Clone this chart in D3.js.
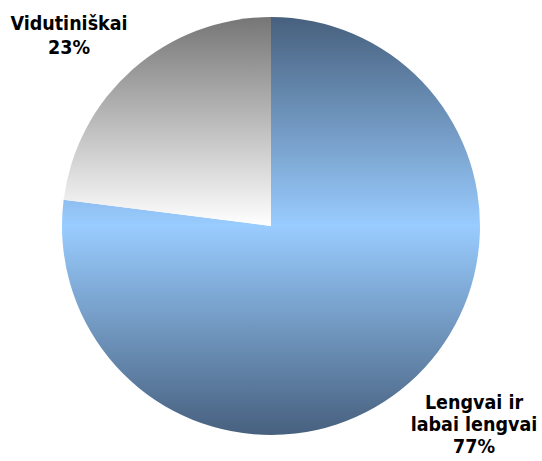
<!DOCTYPE html>
<html>
<head>
<meta charset="utf-8">
<script src="https://cdn.jsdelivr.net/npm/d3@7"></script>
<style>
  html, body { margin: 0; padding: 0; background: #fff; }
  svg { display: block; }
</style>
</head>
<body>
<svg id="chart" width="542" height="461"></svg>
<script>
// Answer shares (percent)
const categories = ["Lengvai ir labai lengvai", "Vidutiniškai"];
const values = [77, 23];
const labelLines = [["Lengvai ir", "labai lengvai", "77%"], ["Vidutiniškai", "23%"]];

const svg = d3.select("#chart");
const cx = 271, cy = 226, r = 209;

const defs = svg.append("defs");
// Blue slice: dark slate at the top and bottom, light blue through the middle
const gBlue = defs.append("linearGradient").attr("id", "gBlue")
  .attr("x1", 0).attr("y1", 0).attr("x2", 0).attr("y2", 1);
gBlue.append("stop").attr("offset", "0%").attr("stop-color", "#47607e");
gBlue.append("stop").attr("offset", "50%").attr("stop-color", "#99ccff");
gBlue.append("stop").attr("offset", "100%").attr("stop-color", "#47607e");
// Grey slice: mid grey at the top fading to white
const gGrey = defs.append("linearGradient").attr("id", "gGrey")
  .attr("x1", 0).attr("y1", 0).attr("x2", 0).attr("y2", 1);
gGrey.append("stop").attr("offset", "0%").attr("stop-color", "#767676");
gGrey.append("stop").attr("offset", "100%").attr("stop-color", "#ffffff");

const fills = ["url(#gBlue)", "url(#gGrey)"];

const pie = d3.pie().sort(null).value(d => d)
  .startAngle(0).endAngle(2 * Math.PI);
const arc = d3.arc().innerRadius(0).outerRadius(r);

const g = svg.append("g").attr("transform", `translate(${cx},${cy})`);
g.selectAll("path").data(pie(values)).join("path")
  .attr("d", arc)
  .attr("fill", (d, i) => fills[i]);

// Labels (slightly condensed bold face)
const labelPos = [{x: 474, y: 409, lh: 22}, {x: 69, y: 30, lh: 24}];
labelLines.forEach((lines, i) => {
  const t = svg.append("g")
    .attr("transform", `translate(${labelPos[i].x},${labelPos[i].y}) scale(0.9,1)`)
    .append("text")
    .attr("text-anchor", "middle")
    .attr("font-family", "DejaVu Sans, Verdana, sans-serif")
    .attr("font-weight", "bold")
    .attr("font-size", 19.5)
    .attr("fill", "#000");
  lines.forEach((s, j) => {
    t.append("tspan").attr("x", 0).attr("y", j * labelPos[i].lh).text(s);
  });
});
</script>
</body>
</html>
